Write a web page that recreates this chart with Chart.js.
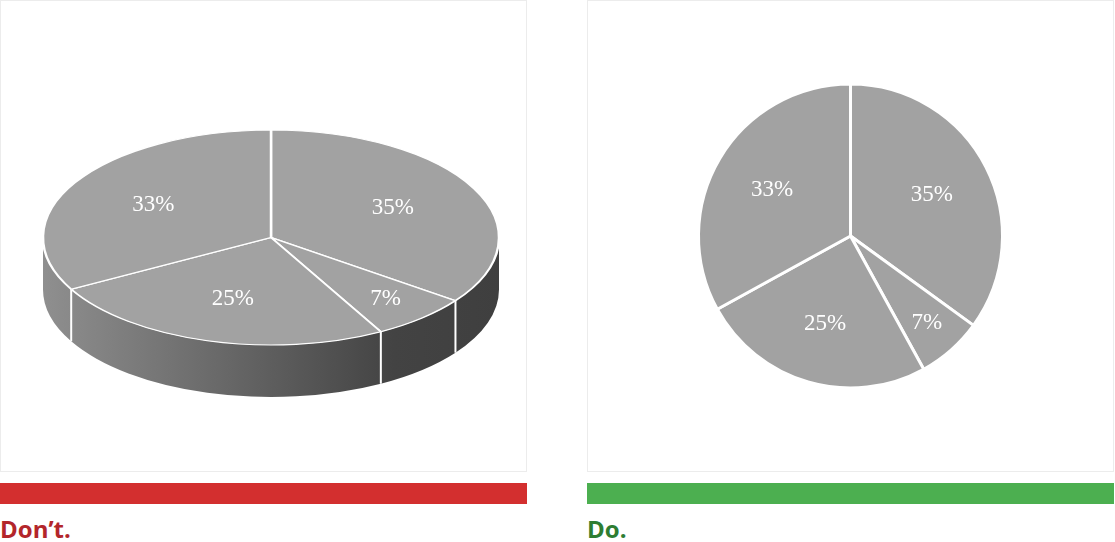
<!DOCTYPE html>
<html>
<head>
<meta charset="utf-8">
<script src="https://cdn.jsdelivr.net/npm/chart.js"></script>
<style>
  body { margin: 0; background: #fff; width: 1115px; height: 542px; position: relative; overflow: hidden; }
  .panel { position: absolute; top: 0; width: 525px; height: 470px; border: 1px solid #ececec; }
  canvas { position: absolute; top: 0; }
  .bar { position: absolute; top: 483px; height: 21px; width: 527px; }
  .caption { position: absolute; top: 512px; font: bold 24px "Open Sans", sans-serif; line-height: 34px; }
</style>
</head>
<body>
<div class="panel" style="left:0"></div>
<div class="panel" style="left:587px"></div>
<canvas id="bad_pie" width="527" height="472" style="left:0"></canvas>
<canvas id="good_pie" width="527" height="472" style="left:587px"></canvas>
<div class="bar" style="left:0;background:#d32f2f"></div>
<div class="bar" style="left:587px;background:#4caf50"></div>
<div class="caption" style="left:0;color:#b3262b">Don’t.</div>
<div class="caption" style="left:587px;color:#2e7d32">Do.</div>
<script>
let categories = ['A', 'B', 'C', 'D'];
let shares = [35, 7, 25, 33];

const sliceColor = '#a2a2a2';
const tilt = 107.5 / 228;
const depth = 52;

function drawLabels(chart, squash) {
    let ctx = chart.ctx;
    let arcs = chart.getDatasetMeta(0).data;
    ctx.save();
    ctx.fillStyle = '#fff';
    ctx.font = '23px "Liberation Serif", serif';
    ctx.textAlign = 'center';
    ctx.textBaseline = 'middle';
    arcs.forEach((arc, i) => {
        let mid = (arc.startAngle + arc.endAngle) / 2;
        let f = shares[i] < 10 ? 0.76 : 0.6;
        let x = arc.x + Math.cos(mid) * arc.outerRadius * f;
        let y = arc.y + Math.sin(mid) * arc.outerRadius * f * squash;
        ctx.fillText(shares[i] + '%', x, y);
    });
    ctx.restore();
}

// fake 3d: side walls + squashed top face
const pie3d = {
    id: 'pie3d',
    beforeDatasetsDraw(chart) {
        let ctx = chart.ctx;
        let arcs = chart.getDatasetMeta(0).data;
        let cx = arcs[0].x, cy = arcs[0].y, r = arcs[0].outerRadius, ry = r * tilt;
        let grad = ctx.createLinearGradient(cx - r, 0, cx + r, 0);
        grad.addColorStop(0, '#8f8f8f');
        grad.addColorStop(0.77, '#434343');
        grad.addColorStop(1, '#3f3f3f');
        ctx.save();
        let TAU = Math.PI * 2;
        arcs.forEach(arc => {
            let s = ((arc.startAngle % TAU) + TAU) % TAU;
            let e = s + (arc.endAngle - arc.startAngle);
            [0, TAU].forEach(off => {
                let a = Math.max(s, off), b = Math.min(e, off + Math.PI);
                if (b <= a) return;
                ctx.beginPath();
                ctx.ellipse(cx, cy, r, ry, 0, a, b);
                ctx.ellipse(cx, cy + depth, r, ry, 0, b, a, true);
                ctx.closePath();
                ctx.fillStyle = grad;
                ctx.fill();
            });
        });
        ctx.strokeStyle = '#fff';
        ctx.lineWidth = 2;
        arcs.forEach(arc => {
            let s = arc.startAngle;
            if (Math.sin(s) > 0.02) {
                let x = cx + Math.cos(s) * r, y = cy + Math.sin(s) * ry;
                ctx.beginPath();
                ctx.moveTo(x, y);
                ctx.lineTo(x, y + depth);
                ctx.stroke();
            }
        });
        ctx.restore();

        ctx.save();
        ctx.translate(cx, cy);
        ctx.scale(1, tilt);
        ctx.translate(-cx, -cy);
    },
    afterDatasetsDraw(chart) {
        chart.ctx.restore();
        drawLabels(chart, tilt);
    }
};

const flatLabels = {
    id: 'flatLabels',
    afterDatasetsDraw(chart) {
        drawLabels(chart, 1);
    }
};

function createPie(canvasId, radius, borderWidth, padding, plugin) {
    return new Chart(document.getElementById(canvasId).getContext('2d'), {
        type: 'pie',
        data: {
            labels: categories,
            datasets: [{
                data: shares,
                backgroundColor: sliceColor,
                borderColor: '#fff',
                borderWidth: borderWidth,
                radius: radius
            }]
        },
        options: {
            responsive: false,
            animation: false,
            events: [],
            layout: { padding: padding },
            plugins: {
                legend: { display: false },
                tooltip: { enabled: false }
            }
        },
        plugins: [plugin]
    });
}

let bad_pie = createPie('bad_pie', 228, 2.5, { left: 15, top: 3, right: 0, bottom: 0 }, pie3d);
let good_pie = createPie('good_pie', 152, 3, 0, flatLabels);
</script>
</body>
</html>
